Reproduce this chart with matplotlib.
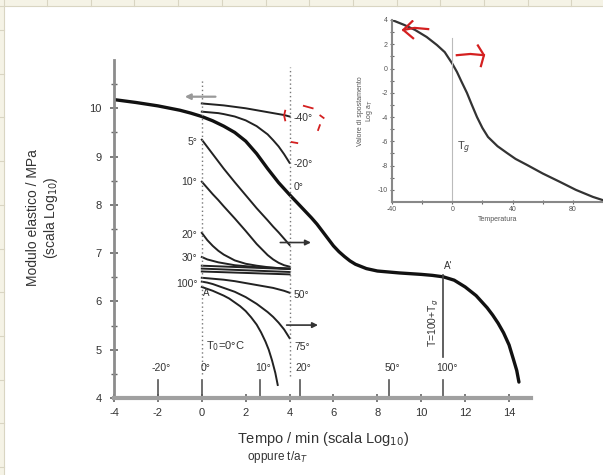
import matplotlib
matplotlib.use("Agg")
import matplotlib.pyplot as plt
from matplotlib.lines import Line2D
from matplotlib.patches import Rectangle

plt.rcParams["font.family"] = ["Liberation Sans", "DejaVu Sans"]
plt.rcParams["axes.unicode_minus"] = False

# master curve (thick line), T0 = 0 C
master_x = [-4, -3, -2, -1, -0.5, 0, 0.5, 1, 1.5, 2, 2.5, 3, 3.5, 4, 4.5, 5, 5.25, 5.5,
            5.75, 6, 6.25, 6.5, 6.75, 7, 7.5, 8, 9, 10, 10.5, 11, 11.5, 12, 12.5, 13,
            13.25, 13.5, 13.75, 14, 14.2, 14.35, 14.45]
master_y = [10.18, 10.12, 10.05, 9.96, 9.90, 9.83, 9.74, 9.63, 9.50, 9.32, 9.06, 8.75,
            8.46, 8.21, 7.97, 7.73, 7.60, 7.45, 7.30, 7.15, 7.03, 6.93, 6.84, 6.77, 6.68,
            6.63, 6.59, 6.56, 6.54, 6.51, 6.44, 6.30, 6.12, 5.87, 5.72, 5.55, 5.35, 5.10,
            4.80, 4.57, 4.33]

# isothermal curves measured between 0 and 4 decades
iso_x = [0, 0.25, 0.5, 0.75, 1, 1.5, 2, 2.5, 3, 3.25, 3.5, 3.75, 4]
iso_m40 = [10.10, 10.09, 10.08, 10.07, 10.06, 10.03, 10.00, 9.96, 9.92, 9.90, 9.88, 9.86, 9.83]
iso_m20 = [9.93, 9.92, 9.91, 9.90, 9.88, 9.83, 9.75, 9.63, 9.46, 9.34, 9.21, 9.05, 8.87]
iso_5 = [9.35, 9.20, 9.05, 8.90, 8.75, 8.47, 8.20, 7.93, 7.68, 7.55, 7.43, 7.30, 7.17]
iso_10 = [8.48, 8.35, 8.22, 8.10, 7.97, 7.72, 7.46, 7.19, 6.96, 6.87, 6.80, 6.75, 6.72]
iso_20 = [7.42, 7.27, 7.15, 7.05, 6.97, 6.85, 6.78, 6.74, 6.71, 6.70, 6.69, 6.685, 6.68]
iso_30 = [6.92, 6.87, 6.84, 6.81, 6.79, 6.75, 6.73, 6.71, 6.70, 6.695, 6.69, 6.685, 6.68]
iso_50 = [6.49, 6.48, 6.47, 6.46, 6.45, 6.42, 6.38, 6.34, 6.30, 6.28, 6.25, 6.22, 6.18]
iso_75 = [6.41, 6.39, 6.36, 6.32, 6.28, 6.20, 6.09, 5.95, 5.78, 5.68, 5.56, 5.42, 5.24]
bundle_x = [0, 4]
bundle_y = [[6.74, 6.67], [6.68, 6.61], [6.62, 6.56]]
iso_100_x = [0, 0.25, 0.5, 0.75, 1, 1.25, 1.5, 1.75, 2, 2.25, 2.5, 2.7, 2.9, 3.05, 3.2,
             3.35, 3.46]
iso_100_y = [6.30, 6.26, 6.22, 6.17, 6.12, 6.06, 5.98, 5.90, 5.80, 5.67, 5.52, 5.36, 5.17,
             5.00, 4.78, 4.52, 4.27]

left_labels = ["5°", "10°", "20°", "30°", "100°"]
left_label_y = [9.30, 8.48, 7.38, 6.90, 6.36]
right_labels = ["-40°", "-20°", "0°", "50°", "75°"]
right_label_y = [9.80, 8.84, 8.36, 6.14, 5.06]

# temperature scale (log aT) drawn above the time axis
temp_ticks = [-2, 0, 2.65, 4.48, 8.52, 11.0]
temp_labels = ["-20°", "0°", "10°", "20°", "50°", "100°"]

# inset: shift factor vs temperature
inset_t = [-40, -32, -24.7, -17, -10.2, -5, -2.9, 0, 3.1, 6, 9.7, 13, 16.4, 20, 23.7,
           30, 36.3, 42, 49.5, 60, 71.4, 82, 93.3, 100]
inset_log_at = [4.0, 3.6, 3.18, 2.6, 1.94, 1.35, 0.95, 0.4, -0.28, -1.05, -2.0, -3.0,
                -4.0, -4.9, -5.64, -6.4, -6.96, -7.45, -7.94, -8.65, -9.34, -10.0,
                -10.58, -10.85]

W, H = 603, 475
fig = plt.figure(figsize=(W / 100, H / 100), dpi=100)

# spreadsheet background strips
beige = "#f5f3e6"
grid = "#d9d5c2"
fig.patches.append(Rectangle((0, 1 - 6 / H), 1, 6 / H, transform=fig.transFigure,
                             facecolor=beige, edgecolor="none", zorder=0))
fig.patches.append(Rectangle((0, 0), 4 / W, 1, transform=fig.transFigure,
                             facecolor=beige, edgecolor="none", zorder=0))
for i in range(14):
    px = 47 + i * 43.7
    fig.lines.append(Line2D([px / W, px / W], [1 - 6 / H, 1], transform=fig.transFigure,
                            color=grid, lw=0.8))
for i in range(11):
    py = 30 + i * 43.7
    fig.lines.append(Line2D([0, 4 / W], [1 - py / H, 1 - py / H], transform=fig.transFigure,
                            color=grid, lw=0.8))
fig.lines.append(Line2D([0, 1], [1 - 6 / H, 1 - 6 / H], transform=fig.transFigure,
                        color=grid, lw=0.8))
fig.lines.append(Line2D([4 / W, 4 / W], [0, 1], transform=fig.transFigure,
                        color=grid, lw=0.8))

ax = fig.add_axes([114 / W, 1 - 398 / H, (531 - 114) / W, (398 - 60) / H])
ax.set_xlim(-4, 15)
ax.set_ylim(4, 11)
for s in ["top", "right"]:
    ax.spines[s].set_visible(False)
ax.spines["left"].set_color("#8c8c8c")
ax.spines["left"].set_linewidth(2)
ax.spines["bottom"].set_color("#a0a0a0")
ax.spines["bottom"].set_linewidth(3)
ax.set_xticks(range(-4, 15, 2))
ax.set_yticks(range(4, 11))
ax.set_yticks([v + 0.5 for v in range(4, 11)], minor=True)
ax.tick_params(axis="both", which="major", direction="inout", length=6, width=1.2,
               color="#666666", labelsize=8, labelcolor="#333333")
ax.tick_params(axis="y", which="minor", direction="inout", length=4, width=1,
               color="#666666")
ax.tick_params(axis="y", pad=6)
ax.tick_params(axis="x", pad=4)

ink = "#222222"
ax.plot(master_x, master_y, color="#111111", lw=2.4, solid_capstyle="round",
        solid_joinstyle="round")
for ys in [iso_m40, iso_m20, iso_5, iso_10, iso_20, iso_30, iso_50, iso_75]:
    ax.plot(iso_x, ys, color=ink, lw=1.4, solid_joinstyle="round")
for ys in bundle_y:
    ax.plot(bundle_x, ys, color=ink, lw=1.4)
ax.plot(iso_100_x, iso_100_y, color=ink, lw=1.4, solid_joinstyle="round")

# dotted windows at 0 and 4 decades
ax.plot([0, 0], [4.5, 10.6], color="#777777", lw=1, ls=(0, (1, 2)))
ax.plot([4, 4], [4.45, 10.85], color="#777777", lw=1, ls=(0, (1, 2)))

lab = "#333333"
for t, y in zip(left_labels, left_label_y):
    ax.text(-0.2, y, t, ha="right", va="center", fontsize=7.5, color=lab)
for t, y in zip(right_labels, right_label_y):
    ax.text(4.2, y, t, ha="left", va="center", fontsize=7.5, color=lab)

for x, t in zip(temp_ticks, temp_labels):
    ax.plot([x, x], [4.05, 4.37], color="#555555", lw=1.2)
    ax.text(x + 0.15, 4.62, t, ha="center", va="center", fontsize=7.5, color=lab)

ax.plot([11, 11], [4.85, 6.55], color="#444444", lw=1.2)
ax.text(10.55, 5.55, "T=100+T$_g$", rotation=90, ha="center", va="center",
        fontsize=7.5, color=lab)
ax.text(11.05, 6.63, "A'", ha="left", va="bottom", fontsize=7, color=lab)
ax.text(0.05, 6.18, "A", ha="left", va="center", fontsize=7, color=lab)
ax.text(0.2, 5.08, "T$_0$=0°C", ha="left", va="center", fontsize=8, color=lab)

arrow = dict(arrowstyle="-|>", color="#333333", lw=1.2, mutation_scale=8)
ax.annotate("", xy=(-0.9, 10.24), xytext=(0.75, 10.24),
            arrowprops=dict(arrowstyle="-|>", color="#999999", lw=1.6, mutation_scale=8))
ax.annotate("", xy=(5.1, 7.22), xytext=(3.45, 7.22), arrowprops=arrow)
ax.annotate("", xy=(5.42, 5.51), xytext=(3.74, 5.51), arrowprops=arrow)

ax.set_ylabel("Modulo elastico / MPa\n(scala Log$_{10}$)", fontsize=10, color="#333333",
              linespacing=1.1)
ax.yaxis.set_label_coords(-0.13, 0.535)
fig.text(323 / W, 1 - 439 / H, "Tempo / min (scala Log$_{10}$)", ha="center",
         va="center", fontsize=10.5, color="#333333")
fig.text(277 / W, 1 - 457 / H, "oppure t/a$_T$", ha="center", va="center",
         fontsize=8.5, color="#333333")

# red hand marks around the -40 label
red = "#d42020"
for xs, ys in [([3.8, 3.75, 3.8], [9.95, 9.85, 9.75]),
               ([4.65, 5.05], [10.05, 10.0]),
               ([5.4, 5.55], [9.85, 9.8]),
               ([5.3, 5.38], [9.55, 9.65]),
               ([4.1, 4.35], [9.3, 9.28])]:
    ax.plot(xs, ys, color=red, lw=1.3)

# inset
ins = fig.add_axes([392 / W, 1 - 202 / H, (W - 392) / W, (202 - 20) / H])
ins.set_xlim(-40, 100)
ins.set_ylim(-11, 4)
for s in ["top", "right"]:
    ins.spines[s].set_visible(False)
for s in ["left", "bottom"]:
    ins.spines[s].set_color("#888888")
    ins.spines[s].set_linewidth(1.5)
ins.set_xticks([-40, 0, 40, 80])
ins.set_xticks([-20, 20, 60], minor=True)
ins.set_yticks([4, 2, 0, -2, -4, -6, -8, -10])
ins.set_yticks([3, 1, -1, -3, -5, -7, -9], minor=True)
ins.tick_params(which="both", direction="inout", length=3, width=0.8, color="#666666",
                labelsize=5, labelcolor="#555555", pad=1.5)
ins.patch.set_alpha(0)
ins.plot(inset_t, inset_log_at, color="#333333", lw=1.6, solid_joinstyle="round")
ins.plot([0, 0], [-11, 2.5], color="#bbbbbb", lw=0.8)
ins.text(3, -6.5, "T$_g$", fontsize=8, color="#444444", ha="left", va="center")
ins.set_xlabel("Temperatura", fontsize=5, color="#555555", labelpad=2)
ins.set_ylabel("Valore di spostamento\nLog a$_T$", fontsize=5, color="#555555",
               labelpad=2, linespacing=1.0)

# red hand-drawn arrows in the inset
ins.plot([-32.5, -25, -16], [3.18, 3.35, 3.25], color=red, lw=1.6)
ins.plot([-26.5, -32.5, -26], [3.9, 3.18, 2.5], color=red, lw=1.6)
ins.plot([3, 12, 21], [1.1, 1.2, 1.1], color=red, lw=1.6)
ins.plot([17, 21, 19], [1.9, 1.1, 0.2], color=red, lw=1.6)

fig.savefig("out.png", dpi=100)
